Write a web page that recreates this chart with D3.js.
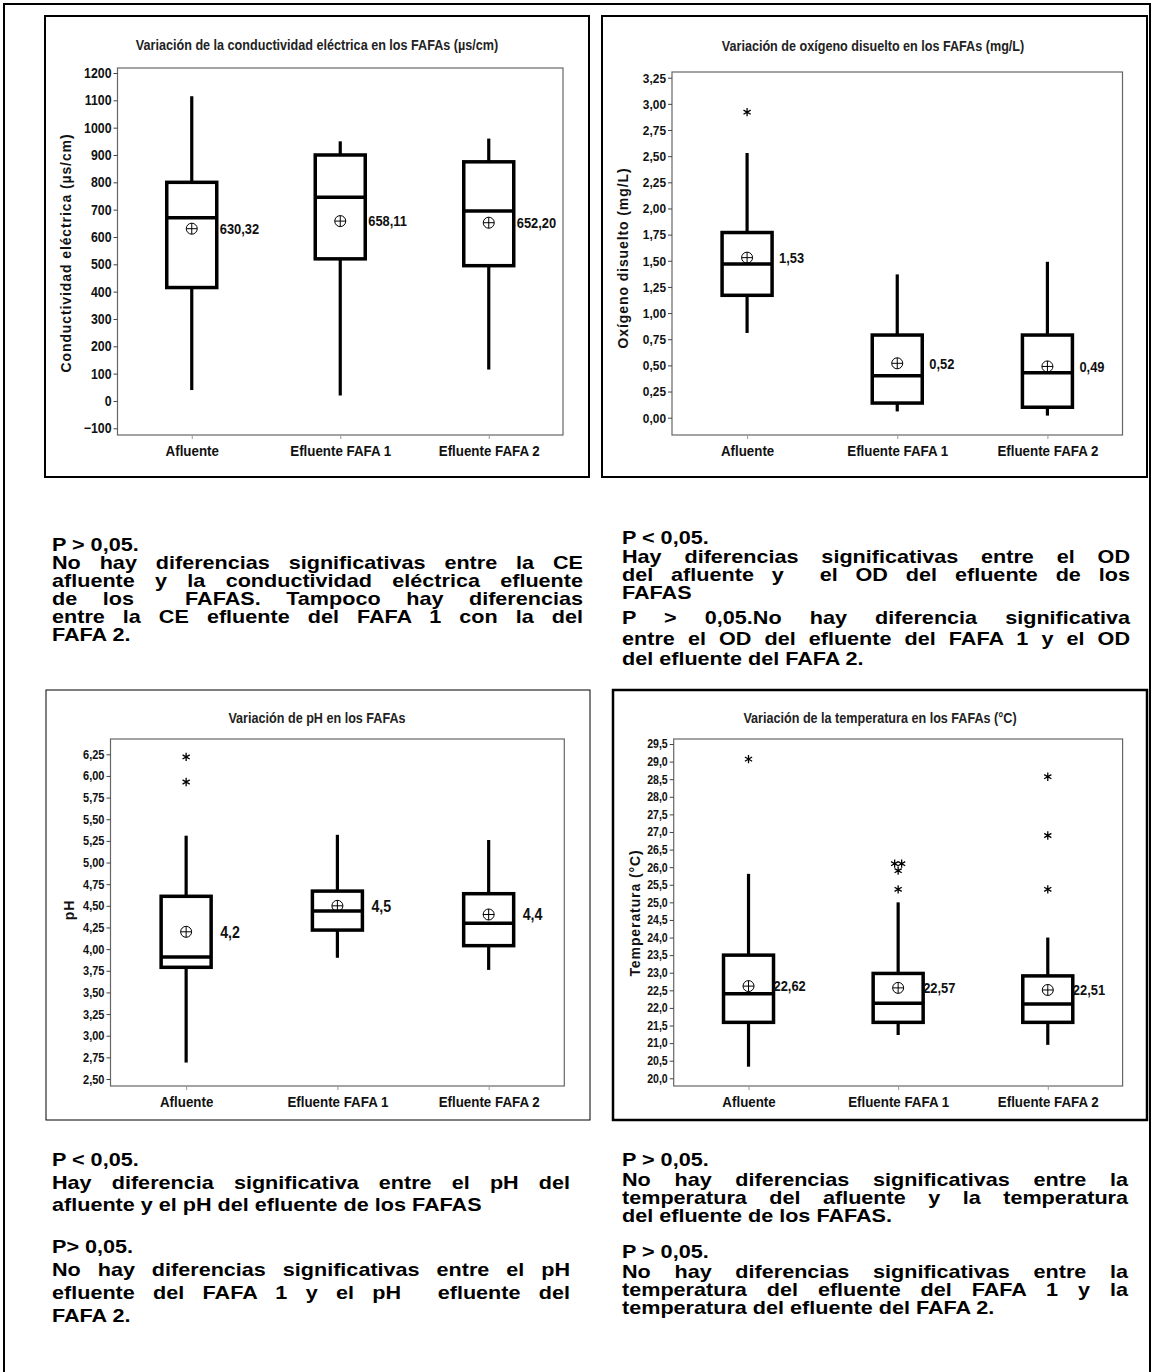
<!DOCTYPE html>
<html><head><meta charset="utf-8">
<script src="https://cdn.jsdelivr.net/npm/d3@7"></script>
<style>
body{margin:0;background:#fff;}
svg{display:block;}
svg text{font-family:"Liberation Sans",Arial,sans-serif;}
.note{font-weight:bold;white-space:pre;}
</style></head><body>
<svg id="fig" width="1153" height="1372"></svg>
<script>
// ---------- data ----------
const categories = ["Afluente", "Efluente FAFA 1", "Efluente FAFA 2"];

// Conductividad eléctrica (µs/cm)
const ceTicks = [-100, 0, 100, 200, 300, 400, 500, 600, 700, 800, 900, 1000, 1100, 1200];
const ceLow = [40, 20, 115];
const ceQ1 = [415, 520, 495];
const ceMedian = [670, 745, 695];
const ceQ3 = [800, 900, 875];
const ceHigh = [1115, 950, 960];
const ceMean = [630.32, 658.11, 652.20];
const ceOutliers = [[], [], []];

// Oxígeno disuelto (mg/L)
const odTicks = [0, 0.25, 0.5, 0.75, 1, 1.25, 1.5, 1.75, 2, 2.25, 2.5, 2.75, 3, 3.25];
const odLow = [0.81, 0.06, 0.02];
const odQ1 = [1.17, 0.14, 0.10];
const odMedian = [1.47, 0.40, 0.43];
const odQ3 = [1.77, 0.79, 0.79];
const odHigh = [2.53, 1.37, 1.49];
const odMean = [1.53, 0.52, 0.49];
const odOutliers = [[2.92], [], []];

// pH
const phTicks = [2.5, 2.75, 3, 3.25, 3.5, 3.75, 4, 4.25, 4.5, 4.75, 5, 5.25, 5.5, 5.75, 6, 6.25];
const phLow = [2.69, 3.90, 3.76];
const phQ1 = [3.79, 4.22, 4.04];
const phMedian = [3.91, 4.44, 4.30];
const phQ3 = [4.61, 4.67, 4.64];
const phHigh = [5.31, 5.32, 5.26];
const phMean = [4.2, 4.5, 4.4];
const phOutliers = [[6.22, 5.93], [], []];

// Temperatura (°C)
const tTicks = [20, 20.5, 21, 21.5, 22, 22.5, 23, 23.5, 24, 24.5, 25, 25.5, 26, 26.5, 27, 27.5, 28, 28.5, 29, 29.5];
const tLow = [20.33, 21.23, 20.95];
const tQ1 = [21.59, 21.59, 21.59];
const tMedian = [22.4, 22.13, 22.11];
const tQ3 = [23.5, 22.98, 22.91];
const tHigh = [25.81, 25.0, 24.0];
const tMean = [22.62, 22.57, 22.51];
const tOutliers = [[29.07], [26.1, 26.1, 25.9, 25.37], [28.57, 26.9, 25.37]];

// Notes under each chart (paragraphs of lines)
const notesCE = [
  ["P > 0,05."],
  ["No hay diferencias significativas entre la CE",
   "afluente y la conductividad eléctrica efluente",
   "de los  FAFAS. Tampoco hay diferencias",
   "entre la CE efluente del FAFA 1 con la del",
   "FAFA 2."]
];
const notesOD = [
  ["P < 0,05."],
  ["Hay diferencias significativas entre el OD",
   "del afluente y  el OD del efluente de los",
   "FAFAS"],
  ["P > 0,05.No hay diferencia significativa",
   "entre el OD del efluente del FAFA 1 y el OD",
   "del efluente del FAFA 2."]
];
const notesPH = [
  ["P < 0,05."],
  ["Hay diferencia significativa entre el pH del",
   "afluente y el pH del efluente de los FAFAS"],
  ["P> 0,05."],
  ["No hay diferencias significativas entre el pH",
   "efluente del FAFA 1 y el pH  efluente del",
   "FAFA 2."]
];
const notesT = [
  ["P > 0,05."],
  ["No hay diferencias significativas entre la",
   "temperatura del afluente y la temperatura",
   "del efluente de los FAFAS."],
  ["P > 0,05."],
  ["No hay diferencias significativas entre la",
   "temperatura del efluente del FAFA 1 y la",
   "temperatura del efluente del FAFA 2."]
];

// ---------- drawing ----------
const locale = d3.formatLocale({decimal: ",", thousands: ".", grouping: [3], currency: ["", ""]});
const svg = d3.select("#fig");

// squeeze glyphs horizontally (narrow face look)
function condense(sel, k) {
  sel.each(function () {
    const len = this.getComputedTextLength();
    d3.select(this).attr("textLength", len * k).attr("lengthAdjust", "spacingAndGlyphs");
  });
  return sel;
}

// outer frame
svg.append("rect").attr("x", 4).attr("y", 4).attr("width", 1146).attr("height", 1400)
  .attr("fill", "none").attr("stroke", "#000").attr("stroke-width", 2);

function boxPanel(p) {
  const g = svg.append("g");
  g.append("rect").attr("x", p.frame[0]).attr("y", p.frame[1])
    .attr("width", p.frame[2] - p.frame[0]).attr("height", p.frame[3] - p.frame[1])
    .attr("fill", "#fff").attr("stroke", "#000").attr("stroke-width", p.frameW);

  const x = d3.scaleBand().domain(categories).range([p.plot[0], p.plot[2]]);
  const cx = c => x(c) + x.bandwidth() / 2;
  const y = d3.scaleLinear().domain([p.ticks[0], p.ticks[p.ticks.length - 1]]).range(p.yRange);

  g.append("rect").attr("x", p.plot[0]).attr("y", p.plot[1])
    .attr("width", p.plot[2] - p.plot[0]).attr("height", p.plot[3] - p.plot[1])
    .attr("fill", "none").attr("stroke", "#666").attr("stroke-width", 1.2);

  // y axis
  const ya = g.append("g").attr("transform", `translate(${p.plot[0]},0)`)
    .call(d3.axisLeft(y).tickValues(p.ticks).tickFormat(locale.format(p.tickFmt)).tickSize(4).tickSizeOuter(0));
  ya.select(".domain").remove();
  ya.selectAll("line").attr("stroke", "#444");
  condense(ya.selectAll("text").attr("font-family", "'Liberation Sans',Arial,sans-serif")
    .attr("font-size", p.tickSize).attr("font-weight", "bold").attr("fill", "#111").attr("x", -6), 0.88);

  // x axis
  const xa = g.append("g").attr("transform", `translate(0,${p.plot[3]})`)
    .call(d3.axisBottom(d3.scalePoint().domain(categories).range([cx(categories[0]), cx(categories[2])]))
      .tickSize(4).tickSizeOuter(0));
  xa.select(".domain").remove();
  xa.selectAll("line").attr("stroke", "#999");
  condense(xa.selectAll("text").attr("font-family", "'Liberation Sans',Arial,sans-serif")
    .attr("font-size", 15.5).attr("font-weight", "bold").attr("fill", "#111").attr("y", 10), 0.86);

  // title
  condense(g.append("text").attr("x", p.titleX).attr("y", p.titleY)
    .attr("text-anchor", "middle").attr("font-size", 15).attr("font-weight", "bold")
    .attr("fill", "#222").text(p.title), 0.84);

  // y label
  g.append("text").attr("transform", `translate(${p.yLabelX},${p.yLabelY}) rotate(-90)`)
    .attr("text-anchor", "middle").attr("font-weight", "bold").attr("font-size", 14)
    .attr("letter-spacing", 0.9).attr("fill", "#111").text(p.yLabel);

  const bw = 50;
  const data = categories.map((c, i) => ({
    c, low: p.low[i], q1: p.q1[i], med: p.median[i], q3: p.q3[i], high: p.high[i],
    mean: p.mean[i], out: p.outliers[i]
  }));
  const boxes = g.selectAll(".box").data(data).join("g");
  boxes.append("line").attr("x1", d => cx(d.c)).attr("x2", d => cx(d.c))
    .attr("y1", d => y(d.low)).attr("y2", d => y(d.q1)).attr("stroke", "#000").attr("stroke-width", 3.2);
  boxes.append("line").attr("x1", d => cx(d.c)).attr("x2", d => cx(d.c))
    .attr("y1", d => y(d.q3)).attr("y2", d => y(d.high)).attr("stroke", "#000").attr("stroke-width", 3.2);
  boxes.append("rect").attr("x", d => cx(d.c) - bw / 2).attr("width", bw)
    .attr("y", d => y(d.q3)).attr("height", d => y(d.q1) - y(d.q3))
    .attr("fill", "none").attr("stroke", "#000").attr("stroke-width", 3.5);
  boxes.append("line").attr("x1", d => cx(d.c) - bw / 2).attr("x2", d => cx(d.c) + bw / 2)
    .attr("y1", d => y(d.med)).attr("y2", d => y(d.med)).attr("stroke", "#000").attr("stroke-width", 3.5);

  // mean symbol: circle with cross
  const r = 5.5;
  boxes.append("circle").attr("cx", d => cx(d.c)).attr("cy", d => y(d.mean)).attr("r", r)
    .attr("fill", "none").attr("stroke", "#000").attr("stroke-width", 1);
  boxes.append("path").attr("d", d => `M${cx(d.c) - r},${y(d.mean)}H${cx(d.c) + r}M${cx(d.c)},${y(d.mean) - r}V${y(d.mean) + r}`)
    .attr("stroke", "#000").attr("stroke-width", 1);
  condense(boxes.append("text").attr("x", d => cx(d.c) + p.labelDx)
    .attr("y", d => y(d.mean)).attr("dy", "0.35em").attr("font-size", p.labelSize)
    .attr("font-weight", "bold").attr("fill", "#111").text(d => locale.format(p.meanFmt)(d.mean)), 0.86);

  // outliers (asterisks), side by side when repeated
  const star = d3.symbol().type(d3.symbolAsterisk).size(48);
  boxes.each(function (d) {
    const counts = d3.rollup(d.out, v => v.length, v => v);
    const seen = new Map();
    d.out.forEach(v => {
      const n = counts.get(v), k = seen.get(v) || 0;
      seen.set(v, k + 1);
      const dx = (k - (n - 1) / 2) * 7;
      d3.select(this).append("path").attr("d", star)
        .attr("transform", `translate(${cx(d.c) + dx},${y(v)})`)
        .attr("fill", "none").attr("stroke", "#000").attr("stroke-width", 1.3);
    });
  });
}

boxPanel({
  frame: [45, 16, 589, 477], frameW: 2, plot: [117.5, 68, 563, 435], yRange: [428.3, 73],
  ticks: ceTicks, tickFmt: "d", tickSize: 14, low: ceLow, q1: ceQ1, median: ceMedian, q3: ceQ3,
  high: ceHigh, mean: ceMean, outliers: ceOutliers, meanFmt: ".2f", labelDx: 28, labelSize: 15,
  title: "Variación de la conductividad eléctrica en los FAFAs (µs/cm)", titleX: 317, titleY: 50,
  yLabel: "Conductividad eléctrica  (µs/cm)", yLabelX: 71, yLabelY: 253
});
boxPanel({
  frame: [602, 16, 1147, 477], frameW: 2, plot: [672, 72, 1122.5, 435], yRange: [417.7, 77.7],
  ticks: odTicks, tickFmt: ".2f", tickSize: 13.5, low: odLow, q1: odQ1, median: odMedian, q3: odQ3,
  high: odHigh, mean: odMean, outliers: odOutliers, meanFmt: ".2f", labelDx: 32, labelSize: 15,
  title: "Variación de oxígeno disuelto en los FAFAs (mg/L)", titleX: 873, titleY: 51,
  yLabel: "Oxígeno disuelto (mg/L)", yLabelX: 628, yLabelY: 258
});
boxPanel({
  frame: [46, 690, 590, 1120], frameW: 1, plot: [110.5, 739, 564.3, 1086], yRange: [1079, 754.3],
  ticks: phTicks, tickFmt: ".2f", tickSize: 12.5, low: phLow, q1: phQ1, median: phMedian, q3: phQ3,
  high: phHigh, mean: phMean, outliers: phOutliers, meanFmt: ".1f", labelDx: 34, labelSize: 16.5,
  title: "Variación de pH en los FAFAs", titleX: 317, titleY: 723,
  yLabel: "pH", yLabelX: 74, yLabelY: 910
});
boxPanel({
  frame: [613, 690, 1147, 1120], frameW: 2.5, plot: [673.7, 739, 1122.6, 1086], yRange: [1078.3, 744],
  ticks: tTicks, tickFmt: ".1f", tickSize: 12, low: tLow, q1: tQ1, median: tMedian, q3: tQ3,
  high: tHigh, mean: tMean, outliers: tOutliers, meanFmt: ".2f", labelDx: 25, labelSize: 15,
  title: "Variación de la temperatura en los FAFAs (°C)", titleX: 880, titleY: 723,
  yLabel: "Temperatura  (°C)", yLabelX: 640, yLabelY: 913
});

// notes: justified paragraphs, last line of each paragraph left aligned
function notes(paras, x, width, baselines, size, sx) {
  let i = 0;
  paras.forEach(lines => {
    lines.forEach((line, j) => {
      const t = svg.append("text").attr("class", "note").attr("font-size", size).attr("fill", "#000")
        .attr("transform", `translate(${x},${baselines[i++]}) scale(${sx},1)`).text(line);
      if (j < lines.length - 1) {
        const nat = t.node().getComputedTextLength();
        const spaces = (line.match(/ /g) || []).length;
        if (spaces) t.attr("word-spacing", Math.max(0, (width / sx - nat) / spaces));
      }
    });
  });
}
const SX = 1.2, FS = 18;
notes(notesCE, 52, 531, [551, 569, 587, 605, 623, 641], FS, SX);
notes(notesOD, 622, 508, [544, 563, 581, 599, 624, 645, 665], FS, SX);
notes(notesPH, 52, 518, [1166, 1189, 1211, 1253, 1276, 1299, 1322], FS, SX);
notes(notesT, 622, 506, [1166, 1186, 1204, 1222, 1258, 1278, 1296, 1314], FS, SX);
</script>
</body></html>
